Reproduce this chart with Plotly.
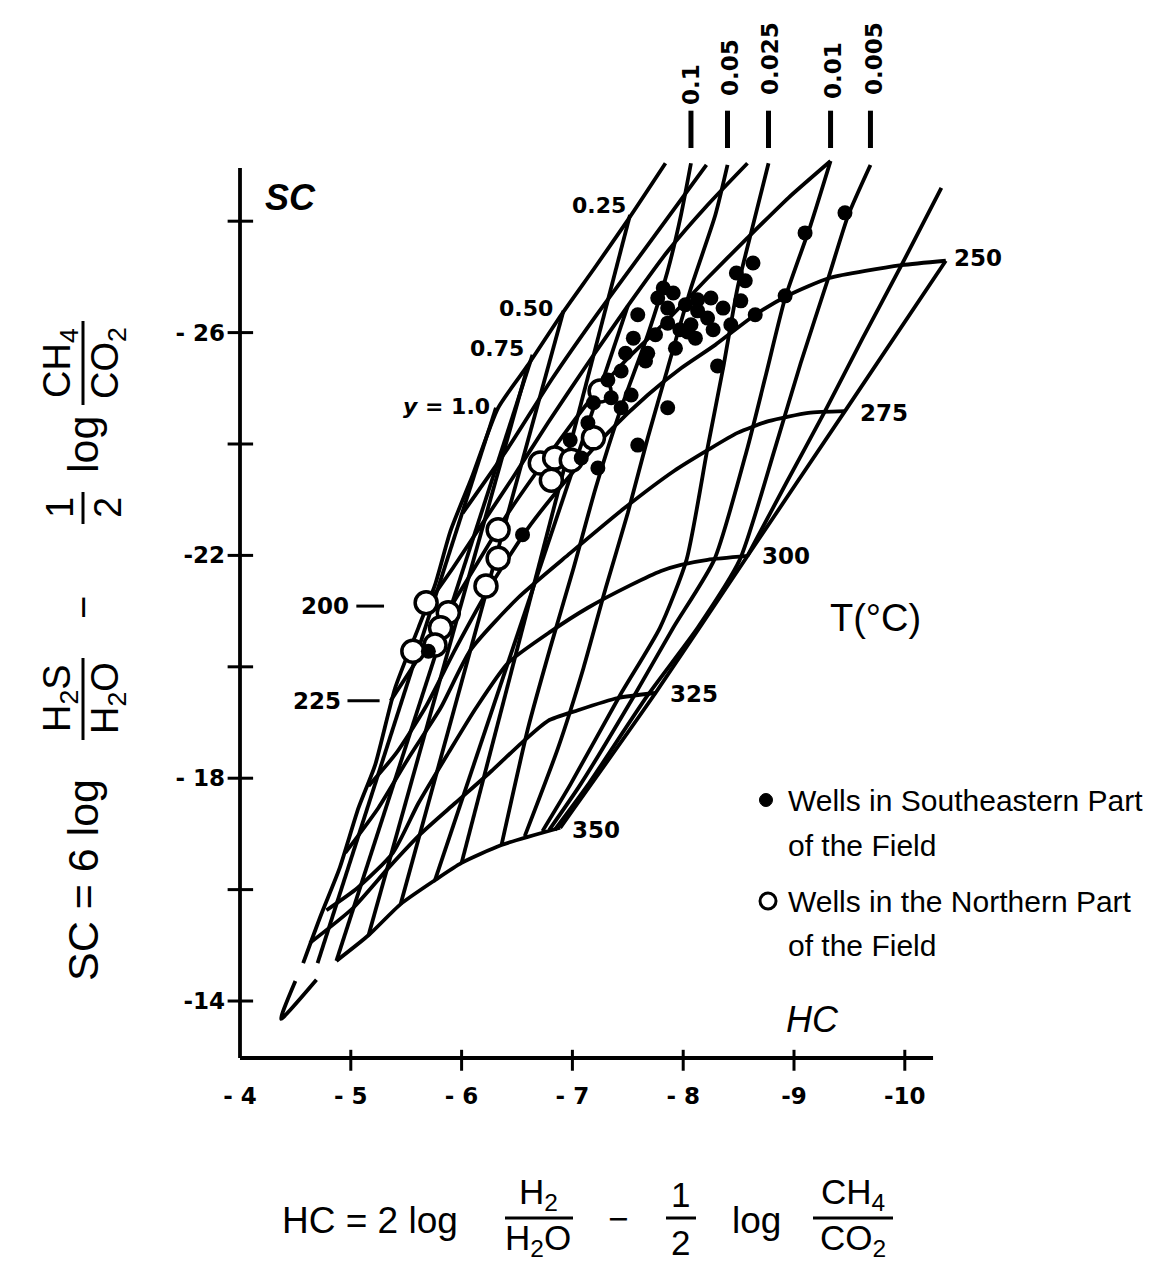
import plotly.graph_objects as go

# ---------------- data (HC, SC) ----------------
# isotherms (deg C)
T200_HC = [-5.68, -5.92, -6.19, -6.46, -6.78, -7.14, -7.50, -7.86, -8.22, -8.58]
T200_SC = [-21.09, -21.77, -22.58, -23.39, -24.38, -25.45, -26.48, -27.46, -28.29, -29.04]
T225_HC = [-5.36, -5.70, -6.06, -6.42, -6.78, -7.14, -7.50, -7.86, -8.22, -8.58, -8.95, -9.33]
T225_SC = [-19.39, -20.43, -21.59, -22.76, -23.78, -24.74, -25.54, -26.23, -26.98, -27.70, -28.42, -29.08]
T250_HC = [-10.37, -9.97, -9.32, -8.95, -8.65, -8.29, -7.98, -7.68, -7.32, -6.96, -6.60, -6.26, -5.95, -5.67, -5.41, -5.16]
T250_SC = [-27.29, -27.21, -26.98, -26.67, -26.32, -25.78, -25.36, -24.88, -24.20, -23.39, -22.49, -21.45, -20.34, -19.26, -18.45, -17.86]
T275_HC = [-9.46, -9.13, -8.77, -8.49, -8.22, -7.92, -7.47, -6.98, -6.51, -6.08, -5.81, -5.52, -5.25, -4.95]
T275_SC = [-24.59, -24.56, -24.41, -24.20, -23.89, -23.52, -22.85, -22.04, -21.24, -20.30, -19.26, -18.36, -17.47, -16.66]
T300_HC = [-8.58, -8.22, -7.98, -7.80, -7.53, -7.14, -6.81, -6.42, -6.13, -5.88, -5.61, -5.38, -5.06, -4.78]
T300_SC = [-21.99, -21.92, -21.83, -21.72, -21.47, -21.06, -20.64, -20.07, -19.26, -18.45, -17.55, -16.66, -16.03, -15.63]
T325_HC = [-7.75, -7.41, -7.05, -6.78, -6.54, -6.27, -5.94, -5.63, -5.34, -5.02, -4.63]
T325_SC = [-19.53, -19.44, -19.22, -19.03, -18.63, -18.13, -17.55, -17.00, -16.39, -15.67, -15.04]
T350_HC = [-6.89, -6.36, -6.00, -5.76, -5.45, -5.16, -4.87]
T350_SC = [-17.11, -16.80, -16.48, -16.17, -15.74, -15.18, -14.72]

# boundaries
LEFT_HC = [-7.84, -7.50, -7.20, -6.90, -6.60, -6.33, -6.09, -5.90, -5.76, -5.61, -5.40, -5.22, -5.07, -4.90, -4.73, -4.57]
LEFT_SC = [-29.04, -28.02, -27.16, -26.32, -25.42, -24.65, -23.39, -22.44, -21.47, -20.70, -19.62, -18.24, -17.47, -16.39, -15.54, -14.68]
RIGHT_HC = [-10.37, -9.46, -8.58, -7.75, -6.89]
RIGHT_SC = [-27.29, -24.59, -21.99, -19.53, -17.11]

# steep lines labelled at the top (0.1 ... 0.005) plus the outer one
A01_HC = [-8.07, -7.98, -7.86, -7.68, -7.43, -7.21, -7.01, -6.80, -6.60, -6.36]
A01_SC = [-29.04, -28.11, -27.11, -25.96, -24.59, -23.21, -21.77, -20.34, -18.90, -16.80]
A005_HC = [-8.40, -8.29, -8.07, -7.86, -7.68, -7.50, -7.30, -7.10, -6.87, -6.57]
A005_SC = [-29.01, -28.11, -26.80, -25.36, -24.11, -22.76, -21.41, -19.98, -18.54, -16.96]
A0025_HC = [-8.77, -8.63, -8.49, -8.36, -8.22, -8.03, -7.79, -7.43, -6.98, -6.73]
A0025_SC = [-29.04, -27.93, -26.80, -25.36, -23.93, -21.92, -20.70, -19.49, -17.88, -17.05]
A001_HC = [-9.33, -9.15, -8.92, -8.75, -8.58, -8.28, -7.91, -7.56, -7.07, -6.79]
A001_SC = [-29.08, -27.93, -26.62, -25.27, -23.93, -21.92, -20.70, -19.49, -17.88, -17.07]
A0005_HC = [-9.69, -9.49, -9.31, -9.06, -8.83, -8.51, -8.13, -7.68, -7.14, -6.84]
A0005_SC = [-29.01, -28.11, -26.98, -25.45, -23.93, -21.92, -20.70, -19.49, -17.88, -17.07]
AOUT_HC = [-10.33, -9.97, -9.62, -9.28, -8.93, -8.58]
AOUT_SC = [-28.60, -27.21, -25.90, -24.59, -23.30, -21.99]

# steam-fraction (y) lines and other straight members of the net
Y10_HC = [-6.31, -4.70]
Y10_SC = [-24.65, -14.68]
Y075_HC = [-6.64, -4.87]
Y075_SC = [-25.60, -14.72]
Y05_HC = [-6.92, -5.45]
Y05_SC = [-26.39, -15.74]
Y025_HC = [-7.52, -6.00]
Y025_SC = [-28.11, -16.48]
INNER1_HC = [-5.76, -7.50]
INNER1_SC = [-16.17, -26.48]
INNER2_HC = [-5.16, -6.60]
INNER2_SC = [-15.18, -25.42]
SHALLOW_HC = [-8.21, -7.68, -7.23, -6.82, -6.42, -6.01]
SHALLOW_SC = [-29.01, -27.57, -26.35, -25.18, -23.93, -22.76]
V_HC = [-4.50, -4.37, -4.69]
V_SC = [-14.36, -13.68, -14.38]

# wells
SE_HC = [-9.46, -9.10, -8.63, -8.56, -8.52, -8.43, -8.65, -8.92, -7.82, -8.02, -8.13, -8.25, -8.07, -7.75, -7.59,
         -7.93, -8.11, -8.31, -7.66, -7.44, -7.53, -7.86, -7.35, -7.59, -7.23, -6.98, -7.44, -6.55, -7.08, -5.70,
         -7.91, -8.13, -7.86, -8.22, -7.97, -8.27, -8.48, -7.48, -7.32, -7.19, -7.14,
         -7.77, -7.86, -8.04, -8.36, -7.68, -7.55]
SE_SC = [-28.15, -27.79, -27.25, -26.93, -26.57, -26.14, -26.32, -26.66, -26.80, -26.50, -26.39, -26.62, -26.14, -25.96, -26.32,
         -25.72, -25.90, -25.40, -25.49, -25.31, -24.88, -24.65, -24.83, -23.98, -23.57, -24.07, -24.65, -22.37, -23.75, -20.28,
         -26.71, -26.59, -26.44, -26.26, -26.05, -26.05, -27.07, -25.63, -25.15, -24.74, -24.38,
         -26.62, -26.17, -26.01, -26.44, -25.63, -25.90]
N_HC = [-7.25, -7.19, -6.71, -6.84, -6.99, -6.81, -6.33, -6.33, -6.22, -5.68, -5.88, -5.81, -5.76, -5.56]
N_SC = [-24.95, -24.11, -23.66, -23.75, -23.71, -23.35, -22.46, -21.95, -21.45, -21.15, -20.97, -20.70, -20.39, -20.28]

# axes
X_TICKS = [-4, -5, -6, -7, -8, -9, -10]
X_TICK_TEXT = ["- 4", "- 5", "- 6", "- 7", "- 8", "-9", "-10"]
Y_TICKS = [-14, -18, -22, -26]
Y_TICK_TEXT = ["-14", "- 18", "-22", "- 26"]
Y_MINOR = [-16, -20, -24, -28]
TOP_LABELS = ["0.1", "0.05", "0.025", "0.01", "0.005"]
ISO_LABELS = ["250", "275", "300", "325", "350"]

X_RANGE = [-4.0, -10.5704]
Y_RANGE = [-12.977, -29.314]
X_AXIS_END = -10.255
Y_AXIS_END = -28.955

BLACK = "black"
TXT = "Liberation Sans, Arial, sans-serif"
NUM = "DejaVu Sans, sans-serif"
LW = 3.8

fig = go.Figure()

lines = [
    ("left boundary", LEFT_HC, LEFT_SC), ("right boundary", RIGHT_HC, RIGHT_SC),
    ("200", T200_HC, T200_SC), ("225", T225_HC, T225_SC), ("250", T250_HC, T250_SC),
    ("275", T275_HC, T275_SC), ("300", T300_HC, T300_SC), ("325", T325_HC, T325_SC),
    ("350", T350_HC, T350_SC),
    ("0.1", A01_HC, A01_SC), ("0.05", A005_HC, A005_SC), ("0.025", A0025_HC, A0025_SC),
    ("0.01", A001_HC, A001_SC), ("0.005", A0005_HC, A0005_SC), ("outer", AOUT_HC, AOUT_SC),
    ("y=1.0", Y10_HC, Y10_SC), ("y=0.75", Y075_HC, Y075_SC), ("y=0.50", Y05_HC, Y05_SC),
    ("y=0.25", Y025_HC, Y025_SC), ("inner 1", INNER1_HC, INNER1_SC), ("inner 2", INNER2_HC, INNER2_SC),
    ("shallow", SHALLOW_HC, SHALLOW_SC), ("tail", V_HC, V_SC),
]
for name, xs, ys in lines:
    fig.add_trace(go.Scatter(x=xs, y=ys, mode="lines", name=name, showlegend=False,
                             line=dict(color=BLACK, width=LW, shape="spline", smoothing=0.6),
                             hoverinfo="skip"))

fig.add_trace(go.Scatter(x=N_HC, y=N_SC, mode="markers", name="Wells in the Northern Part of the Field",
                         showlegend=False, cliponaxis=False,
                         marker=dict(symbol="circle", size=22, color="white", line=dict(color=BLACK, width=3.5))))
fig.add_trace(go.Scatter(x=SE_HC, y=SE_SC, mode="markers", name="Wells in Southeastern Part of the Field",
                         showlegend=False, cliponaxis=False,
                         marker=dict(symbol="circle", size=15, color=BLACK)))

shapes = []
# axis lines
shapes.append(dict(type="line", xref="paper", yref="y", x0=0, x1=0, y0=Y_RANGE[0], y1=Y_AXIS_END,
                   line=dict(color=BLACK, width=3.8)))
shapes.append(dict(type="line", xref="x", yref="paper", x0=X_RANGE[0], x1=X_AXIS_END, y0=0, y1=0,
                   line=dict(color=BLACK, width=3.8)))
# ticks
for v in Y_TICKS + Y_MINOR:
    shapes.append(dict(type="line", xref="paper", yref="y", x0=-0.017, x1=0.018, y0=v, y1=v,
                       line=dict(color=BLACK, width=3)))
for v in X_TICKS[1:]:
    shapes.append(dict(type="line", xref="x", yref="paper", x0=v, x1=v, y0=-0.014, y1=0.009,
                       line=dict(color=BLACK, width=3)))
# bars under the top labels
top_x = [A01_HC[0], A005_HC[0], A0025_HC[0], A001_HC[0], A0005_HC[0]]
for xv in top_x:
    shapes.append(dict(type="line", xref="x", yref="paper", x0=xv, x1=xv, y0=1.0, y1=1.041,
                       line=dict(color=BLACK, width=5)))
# leaders for 200 / 225
shapes.append(dict(type="line", xref="x", yref="y", x0=-5.05, x1=-5.30, y0=-21.09, y1=-21.09,
                   line=dict(color=BLACK, width=3)))
shapes.append(dict(type="line", xref="x", yref="y", x0=-4.97, x1=-5.26, y0=-19.39, y1=-19.39,
                   line=dict(color=BLACK, width=3)))

# legend symbols
shapes.append(dict(type="circle", xref="paper", yref="paper", xsizemode="pixel", ysizemode="pixel",
                   xanchor=0.7225, yanchor=0.2835, x0=-6.5, x1=6.5, y0=-6.5, y1=6.5,
                   fillcolor=BLACK, line=dict(color=BLACK, width=1)))
shapes.append(dict(type="circle", xref="paper", yref="paper", xsizemode="pixel", ysizemode="pixel",
                   xanchor=0.7253, yanchor=0.1725, x0=-8, x1=8, y0=-8, y1=8,
                   fillcolor="white", line=dict(color=BLACK, width=3)))

ann = []


def A(text, x, y, xref="x", yref="y", size=22, family=NUM, xa="center", ya="middle", angle=0, bold=True):
    ann.append(dict(text=text, x=x, y=y, xref=xref, yref=yref, showarrow=False, xanchor=xa, yanchor=ya,
                    textangle=angle,
                    font=dict(family=family, size=size, color=BLACK, weight="bold" if bold else "normal")))


# isotherm labels
iso_pos = [(-10.43, -27.34), (-9.58, -24.56), (-8.69, -21.99), (-7.86, -19.51), (-6.98, -17.07)]
for lab, (xv, yv) in zip(ISO_LABELS, iso_pos):
    A(lab, xv, yv, xa="left", size=23)
A("200", -5.00, -21.09, xa="right", size=23)
A("225", -4.93, -19.39, xa="right", size=23)
# steam fraction labels
A("0.25", -7.50, -28.29, xa="right", size=22)
A("0.50", -6.84, -26.44, xa="right", size=22)
A("0.75", -6.58, -25.72, xa="right", size=22)
A("<i>y</i> = 1.0", -6.27, -24.68, xa="right", size=22)
# top labels (rotated)
top_py = [1.0703, 1.0879, 1.0989, 1.0846, 1.0978]
top_px = [0.6195, 0.6731, 0.7280, 0.8146, 0.8709]
for lab, xp, yp in zip(TOP_LABELS, top_px, top_py):
    A(lab, xp, yp, xref="paper", yref="paper", angle=-90, size=23)

# axis name tags
A("<i>SC</i>", -4.21, -28.42, xa="left", size=36, family=TXT)
A("<i>HC</i>", -9.17, -13.66, size=36, family=TXT, bold=False)
A("T(°C)", -9.74, -20.88, size=38, family=TXT, bold=False)

# legend text
for txt, yp in [("Wells in Southeastern Part", 0.2835), ("of the Field", 0.2330),
                ("Wells in the Northern Part", 0.1725), ("of the Field", 0.1231)]:
    A(txt, 0.7500, yp, xref="paper", yref="paper", xa="left", size=30, family=TXT, bold=False)

TS = 35


def P(text, px, py, size=TS, angle=0):
    A(text, (px - 232) / 728, (1050 - py) / 910, xref="paper", yref="paper", size=size,
      family=TXT, bold=False, angle=angle)


def bar_h(px0, px1, py):
    shapes.append(dict(type="line", xref="paper", yref="paper", x0=(px0 - 232) / 728, x1=(px1 - 232) / 728,
                       y0=(1050 - py) / 910, y1=(1050 - py) / 910, line=dict(color=BLACK, width=3)))


def bar_v(px, py0, py1):
    shapes.append(dict(type="line", xref="paper", yref="paper", x0=(px - 232) / 728, x1=(px - 232) / 728,
                       y0=(1050 - py0) / 910, y1=(1050 - py1) / 910, line=dict(color=BLACK, width=3)))


# x-axis title:  HC = 2 log (H2/H2O) - 1/2 log (CH4/CO2)
P("HC = 2 log", 362, 1212, size=37)
P("H<sub>2</sub>", 530, 1186)
bar_h(497, 565, 1210)
P("H<sub>2</sub>O", 530, 1232)
P("−", 610, 1210)
P("1", 672, 1186)
bar_h(658, 688, 1210)
P("2", 672, 1234)
P("log", 748, 1212, size=37)
P("CH<sub>4</sub>", 845, 1186)
bar_h(805, 885, 1210)
P("CO<sub>2</sub>", 845, 1232)

# y-axis title (rotated)
P("SC = 6 log", 75, 872, size=43, angle=-90)
P("H<sub>2</sub>S", 52, 690, size=38, angle=-90)
bar_v(75, 650, 732)
P("H<sub>2</sub>O", 100, 690, size=38, angle=-90)
P("−", 75, 600, size=40, angle=-90)
P("1", 52, 500, size=38, angle=-90)
bar_v(75, 484, 516)
P("2", 100, 500, size=38, angle=-90)
P("log", 75, 437, size=43, angle=-90)
P("CH<sub>4</sub>", 52, 355, size=38, angle=-90)
bar_v(75, 313, 397)
P("CO<sub>2</sub>", 100, 355, size=38, angle=-90)

fig.update_layout(
    width=1165, height=1266, autosize=False,
    margin=dict(l=232, r=205, t=140, b=216, pad=0),
    paper_bgcolor="white", plot_bgcolor="white",
    showlegend=False,
    shapes=shapes, annotations=ann,
    xaxis=dict(range=X_RANGE, showgrid=False, zeroline=False, showline=False, ticks="",
               tickvals=X_TICKS, ticktext=X_TICK_TEXT, ticklabelstandoff=22,
               tickfont=dict(family=NUM, size=23, color=BLACK, weight="bold")),
    yaxis=dict(range=Y_RANGE, showgrid=False, zeroline=False, showline=False, ticks="",
               tickvals=Y_TICKS, ticktext=Y_TICK_TEXT, ticklabelstandoff=14,
               tickfont=dict(family=NUM, size=23, color=BLACK, weight="bold")),
)

fig.write_html("out.html")
